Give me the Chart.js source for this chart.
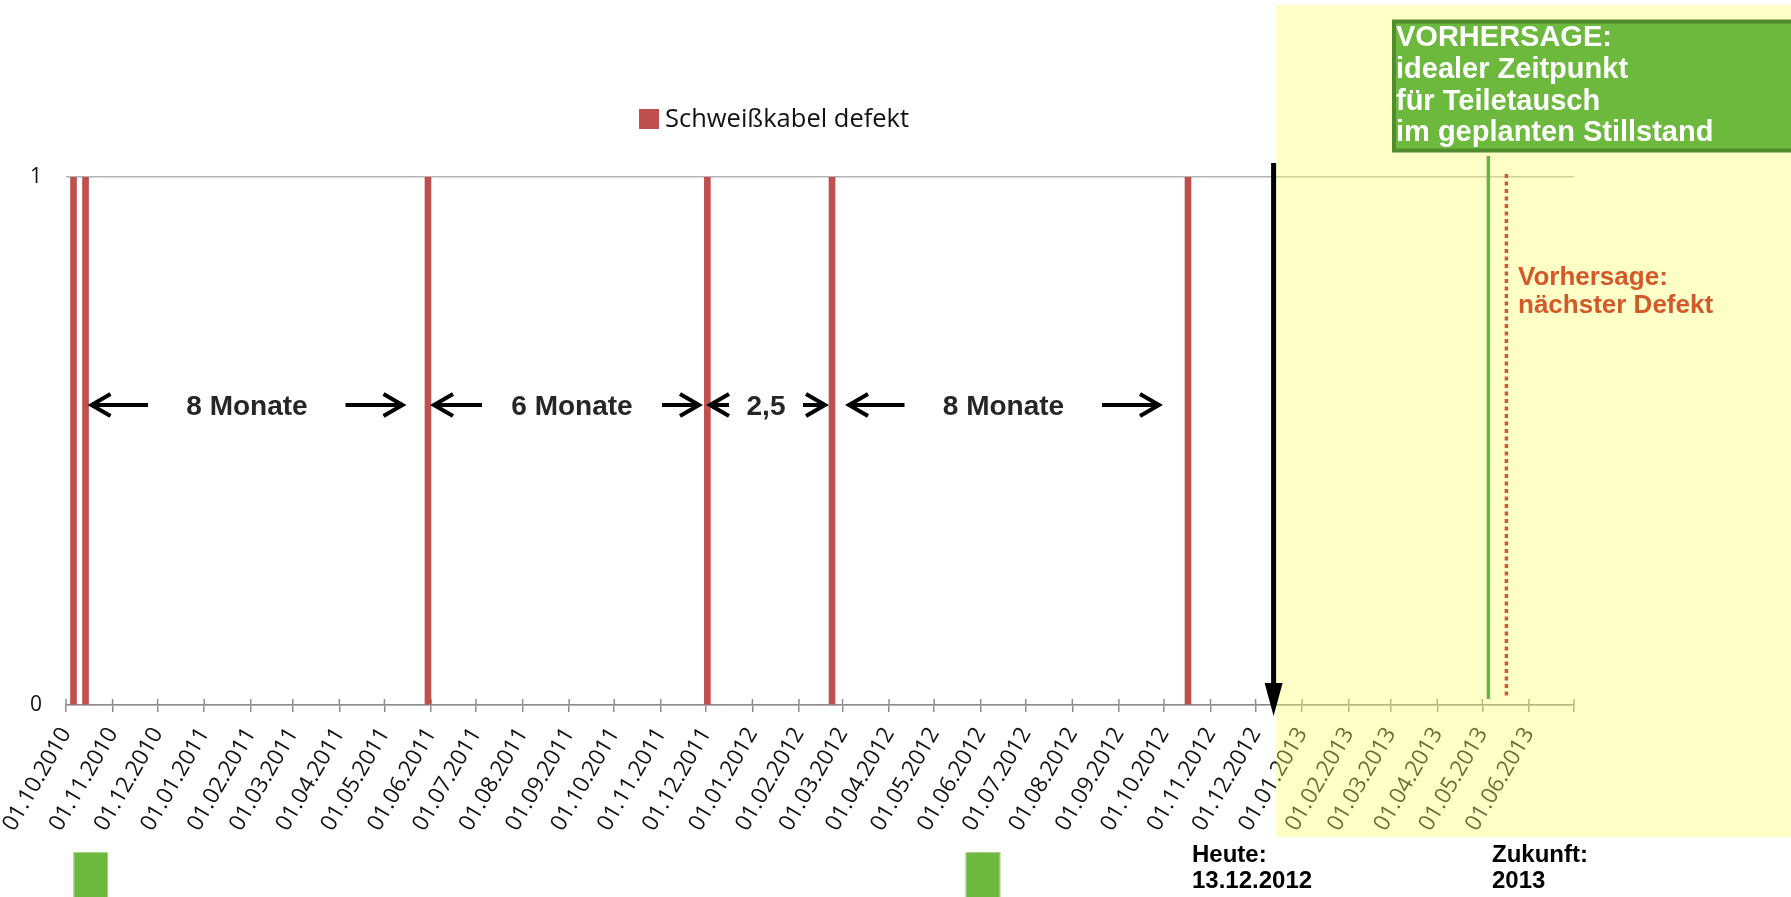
<!DOCTYPE html>
<html lang="de">
<head>
<meta charset="utf-8">
<title>Schweißkabel defekt – Vorhersage</title>
<script src="https://cdn.jsdelivr.net/npm/chart.js@4.4.1/dist/chart.umd.min.js"></script>
<style>
  html, body { margin: 0; padding: 0; background: #ffffff; }
  canvas { display: block; }
</style>
</head>
<body>
<canvas id="chart" width="1791" height="897"></canvas>
<script>
// ---- Data -------------------------------------------------------------
const seriesName = 'Schweißkabel defekt';
const defectDates = ['06.10.2010', '14.10.2010', '30.05.2011', '02.12.2011', '23.02.2012', '17.10.2012'];
const defectValues = [1, 1, 1, 1, 1, 1];

// monthly tick labels of the date axis; the axis closes one month after the last label
const tickLabels = [
  '01.10.2010', '01.11.2010', '01.12.2010',
  '01.01.2011', '01.02.2011', '01.03.2011', '01.04.2011', '01.05.2011', '01.06.2011',
  '01.07.2011', '01.08.2011', '01.09.2011', '01.10.2011', '01.11.2011', '01.12.2011',
  '01.01.2012', '01.02.2012', '01.03.2012', '01.04.2012', '01.05.2012', '01.06.2012',
  '01.07.2012', '01.08.2012', '01.09.2012', '01.10.2012', '01.11.2012', '01.12.2012',
  '01.01.2013', '01.02.2013', '01.03.2013', '01.04.2013', '01.05.2013', '01.06.2013'
];
const axisEnd = '01.07.2013';
const yTicks = [0, 1];

const todayDate = '13.12.2012';
const forecastReplaceDate = '05.05.2013';
const forecastDefectDate = '17.05.2013';
const plannedStops = [['06.10.2010', '29.10.2010'], ['22.05.2012', '14.06.2012']];

const intervalLabels = ['8 Monate', '6 Monate', '2,5', '8 Monate'];
const forecastBoxLines = ['VORHERSAGE:', 'idealer Zeitpunkt', 'für Teiletausch', 'im geplanten Stillstand'];
const defectNoteLines = ['Vorhersage:', 'nächster Defekt'];
const todayNoteLines = ['Heute:', '13.12.2012'];
const futureNoteLines = ['Zukunft:', '2013'];

// ---- Helpers -----------------------------------------------------------
const ORIGIN = Date.UTC(2010, 9, 1);
function dayOf(str) {
  const [d, m, y] = str.split('.').map(Number);
  return Math.round((Date.UTC(y, m - 1, d) - ORIGIN) / 86400000);
}

// layout of the interval arrows (canvas pixels)
const intervalLayout = [
  { cx: 247,  left: [91.5, 148],  right: [345.5, 402.5] },
  { cx: 572,  left: [434, 482],   right: [662, 699] },
  { cx: 766,  left: [710, 729],   right: [803, 825] },
  { cx: 1003.5, left: [849, 904.5], right: [1102, 1159] }
];
const ROW_Y = 405;

const BOLD = '"Liberation Sans", Arial, sans-serif';
const PLAIN = '"Open Sans", sans-serif';

function openArrow(ctx, from, to, y) {
  const dir = Math.sign(to - from);
  ctx.beginPath();
  ctx.moveTo(from, y);
  ctx.lineTo(to - dir * 2, y);
  ctx.stroke();
  ctx.beginPath();
  ctx.moveTo(to - dir * 19, y - 11);
  ctx.lineTo(to, y);
  ctx.lineTo(to - dir * 19, y + 11);
  ctx.stroke();
}

// upper halves of the crossing tick marks on the date axis
const crossTicks = {
  id: 'crossTicks',
  beforeDatasetsDraw(chart) {
    const { ctx, scales: { x } } = chart;
    ctx.save();
    ctx.strokeStyle = '#8c8c8c';
    ctx.lineWidth = 1.5;
    x.ticks.forEach(t => {
      const px = x.getPixelForValue(t.value);
      ctx.beginPath();
      ctx.moveTo(px, x.top - 6);
      ctx.lineTo(px, x.top);
      ctx.stroke();
    });
    ctx.restore();
  }
};

const annotations = {
  id: 'annotations',
  afterDraw(chart) {
    const { ctx, scales: { x, y } } = chart;
    const W = chart.width;
    ctx.save();

    // legend
    const ds = chart.data.datasets[0];
    ctx.fillStyle = ds.backgroundColor;
    ctx.fillRect(639, 109, 20, 20);
    ctx.fillStyle = '#111111';
    ctx.font = '25.5px ' + PLAIN;
    ctx.textBaseline = 'alphabetic';
    ctx.textAlign = 'left';
    ctx.fillText(ds.label, 665, 127);

    // interval arrows and texts
    ctx.strokeStyle = '#000000';
    ctx.lineWidth = 4;
    ctx.lineJoin = 'miter';
    ctx.lineCap = 'butt';
    intervalLayout.forEach((r, i) => {
      openArrow(ctx, r.left[1], r.left[0], ROW_Y);
      openArrow(ctx, r.right[0], r.right[1], ROW_Y);
      ctx.fillStyle = '#262626';
      ctx.font = 'bold 28px ' + BOLD;
      ctx.textAlign = 'center';
      ctx.fillText(intervalLabels[i], r.cx, ROW_Y + 10);
    });

    // future zone
    const todayPx = x.getPixelForValue(dayOf(todayDate));
    ctx.fillStyle = 'rgba(255,255,110,0.38)';
    ctx.fillRect(todayPx + 2.5, 5, W - todayPx, 832);

    // forecast lines
    const gx = x.getPixelForValue(dayOf(forecastReplaceDate));
    ctx.strokeStyle = '#6cb33f';
    ctx.lineWidth = 3.5;
    ctx.beginPath();
    ctx.moveTo(gx, 156);
    ctx.lineTo(gx, y.bottom - 6);
    ctx.stroke();

    const rx = x.getPixelForValue(dayOf(forecastDefectDate));
    ctx.strokeStyle = '#d0583a';
    ctx.lineWidth = 3.5;
    ctx.setLineDash([4, 3.5]);
    ctx.beginPath();
    ctx.moveTo(rx, 174);
    ctx.lineTo(rx, y.bottom - 6);
    ctx.stroke();
    ctx.setLineDash([]);

    // today arrow
    ctx.strokeStyle = '#000000';
    ctx.fillStyle = '#000000';
    ctx.lineWidth = 5;
    ctx.beginPath();
    ctx.moveTo(todayPx, 163);
    ctx.lineTo(todayPx, 690);
    ctx.stroke();
    ctx.beginPath();
    ctx.moveTo(todayPx - 9, 683);
    ctx.lineTo(todayPx + 9, 683);
    ctx.lineTo(todayPx, 716);
    ctx.closePath();
    ctx.fill();

    // forecast box
    ctx.fillStyle = '#6cb93e';
    ctx.strokeStyle = '#508c2d';
    ctx.lineWidth = 4;
    ctx.beginPath();
    ctx.rect(1394, 21.5, 460, 129);
    ctx.fill();
    ctx.stroke();
    ctx.fillStyle = '#ffffff';
    ctx.font = 'bold 29px ' + BOLD;
    ctx.textAlign = 'left';
    forecastBoxLines.forEach((t, i) => ctx.fillText(t, 1396, 46 + i * 31.8));

    // next defect note
    ctx.fillStyle = '#d4582a';
    ctx.font = 'bold 26px ' + BOLD;
    defectNoteLines.forEach((t, i) => ctx.fillText(t, 1518, 285 + i * 28));

    // today / future notes
    ctx.fillStyle = '#000000';
    ctx.font = 'bold 24px ' + BOLD;
    todayNoteLines.forEach((t, i) => ctx.fillText(t, 1192, 862 + i * 25.5));
    futureNoteLines.forEach((t, i) => ctx.fillText(t, 1492, 862 + i * 25.5));

    // planned stops
    ctx.fillStyle = '#6cb83e';
    ctx.strokeStyle = '#a6d58a';
    ctx.lineWidth = 1;
    plannedStops.forEach(([a, b]) => {
      const x0 = x.getPixelForValue(dayOf(a));
      const x1 = x.getPixelForValue(dayOf(b));
      ctx.fillRect(x0, 852, x1 - x0, 60);
      ctx.strokeRect(x0 + 0.5, 852.5, x1 - x0 - 1, 60);
    });

    ctx.restore();
  }
};

const tickValues = tickLabels.concat([axisEnd]).map(dayOf);

new Chart(document.getElementById('chart'), {
  type: 'bar',
  data: {
    datasets: [{
      label: seriesName,
      data: defectDates.map((d, i) => ({ x: dayOf(d), y: defectValues[i] })),
      backgroundColor: '#c0504d',
      borderWidth: 0,
      barThickness: 6
    }]
  },
  options: {
    responsive: false,
    animation: false,
    devicePixelRatio: 1,
    layout: { padding: { top: 177, right: 217, bottom: 0, left: 0 } },
    plugins: { legend: { display: false }, tooltip: { enabled: false }, title: { display: false } },
    scales: {
      x: {
        type: 'linear',
        min: 0,
        max: dayOf(axisEnd),
        offset: false,
        afterBuildTicks: s => { s.ticks = tickValues.map(v => ({ value: v })); },
        afterFit: s => { s.height = 192; s.paddingLeft = 0; s.paddingRight = 0; },
        ticks: {
          autoSkip: false,
          minRotation: 60,
          maxRotation: 60,
          padding: 11,
          color: '#111111',
          font: { family: PLAIN, size: 22.5 },
          callback: (v, i) => (i < tickLabels.length ? tickLabels[i] : '')
        },
        grid: { display: true, drawOnChartArea: false, offset: false, color: '#8c8c8c', lineWidth: 1.5, tickLength: 7 },
        border: { display: true, color: '#8c8c8c', width: 1.5 }
      },
      y: {
        min: 0,
        max: 1,
        afterBuildTicks: s => { s.ticks = yTicks.map(v => ({ value: v })); },
        afterFit: s => { s.width = 66; },
        ticks: { padding: 24, color: '#111111', font: { family: PLAIN, size: 21 } },
        grid: { color: '#b3b3b3', lineWidth: 1.5, drawTicks: false },
        border: { display: false }
      }
    }
  },
  plugins: [crossTicks, annotations]
});
</script>
</body>
</html>
